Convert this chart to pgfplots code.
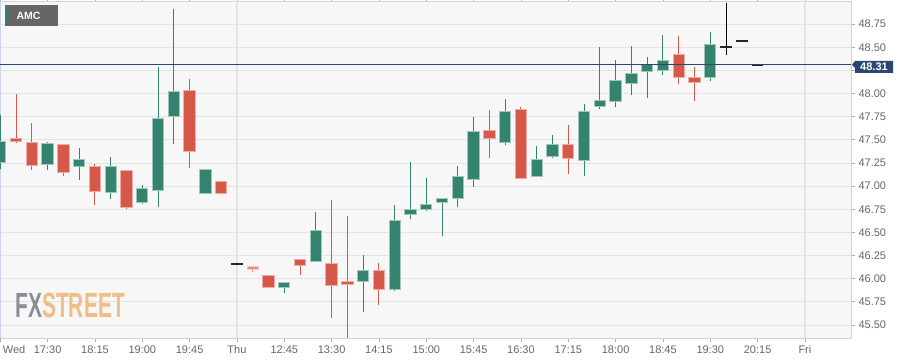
\documentclass[border=0pt]{standalone}
\usepackage{pgfplots}
\pgfplotsset{compat=1.18}
\usepackage{pgfplotstable}
\usepackage{graphicx}
\usepackage{fontspec}
\setmainfont{Liberation Sans}
\definecolor{cup}{RGB}{52,131,111}
\definecolor{cupl}{RGB}{160,200,186}
\definecolor{cdn}{RGB}{214,88,72}
\definecolor{cdnl}{RGB}{240,172,162}
\definecolor{cpale}{RGB}{234,140,128}
\definecolor{cpalel}{RGB}{246,200,194}
\definecolor{bg}{RGB}{247,247,247}
\definecolor{gridc}{RGB}{228,228,228}
\definecolor{bord}{RGB}{204,212,232}
\definecolor{navy}{RGB}{43,71,112}
\definecolor{tickc}{RGB}{102,102,102}
\definecolor{tickm}{RGB}{170,176,190}
\definecolor{fxgrey}{RGB}{138,141,150}
\definecolor{fxorange}{RGB}{240,190,132}

% i open high low close
\pgfplotstableread{
i o h l c
0 47.26 47.77 47.19 47.48
3 47.24 47.48 47.17 47.45
5 47.22 47.41 47.07 47.28
7 46.94 47.32 46.86 47.21
9 46.83 47.01 46.81 46.97
10 46.96 48.29 46.77 47.73
11 47.76 48.91 47.46 48.02
13 46.93 47.17 46.93 47.17
18 45.91 45.95 45.85 45.95
20 46.19 46.72 46.19 46.52
23 45.98 46.26 45.64 46.08
25 45.89 46.80 45.87 46.62
26 46.70 47.26 46.64 46.74
27 46.75 47.09 46.73 46.80
28 46.83 46.87 46.46 46.86
29 46.87 47.22 46.77 47.10
30 47.08 47.75 46.99 47.58
32 47.48 47.94 47.44 47.80
34 47.11 47.43 47.10 47.28
35 47.33 47.55 47.30 47.44
37 47.28 47.89 47.11 47.80
38 47.87 48.50 47.83 47.92
39 47.92 48.36 47.85 48.14
40 48.11 48.51 47.99 48.21
41 48.24 48.39 47.95 48.31
42 48.25 48.63 48.20 48.35
45 48.18 48.67 48.14 48.52
}\up

\pgfplotstableread{
i o h l c
1 47.51 48.00 47.47 47.49
2 47.47 47.68 47.17 47.23
4 47.44 47.44 47.11 47.15
6 47.21 47.24 46.80 46.95
8 47.16 47.17 46.75 46.78
12 48.03 48.16 47.20 47.38
14 47.04 47.04 46.93 46.93
17 46.03 46.03 45.91 45.91
19 46.20 46.20 46.04 46.15
21 46.16 46.85 45.58 45.93
22 45.97 46.68 45.35 45.94
24 46.08 46.17 45.72 45.89
31 47.60 47.82 47.30 47.52
33 47.82 47.85 47.09 47.09
36 47.44 47.66 47.13 47.30
43 48.42 48.62 48.10 48.18
44 48.17 48.29 47.92 48.13
}\down

\pgfplotstableread{
i o h l c
16 46.13 46.13 46.07 46.11
}\pale

\pgfplotstableread{
i o h l c
15 46.16 46.16 46.16 46.16
46 48.505 48.98 48.415 48.505
47 48.566 48.566 48.566 48.566
48 48.31 48.31 48.31 48.31
}\flat

\begin{document}
\begin{tikzpicture}
\path[use as bounding box] (0,0) rectangle (916pt,364pt);
\begin{axis}[
  at={(0pt,26pt)}, anchor=south west,
  scale only axis, width=851pt, height=337pt,
  xmin=-0.02, xmax=53.92, ymin=45.36, ymax=49.0,
  axis background/.style={fill=bg},
  axis line style={bord, line width=0.8pt},
  ytick={45.5,45.75,46,46.25,46.5,46.75,47,47.25,47.5,47.75,48,48.5,48.75},
  extra y ticks={48.25}, extra y tick labels={},
  extra y tick style={ymajorgrids=true},
  ytick pos=right, yticklabel pos=right,
  ymajorgrids, grid style={gridc, line width=0.9pt},
  xtick={3,6,9,12,15,18,21,24,27,30,33,36,39,42,45,48,51},
  xticklabels={17:30,18:15,19:00,19:45,Thu,12:45,13:30,14:15,15:00,15:45,16:30,17:15,18:00,18:45,19:30,20:15,Fri},
  extra x ticks={0}, extra x tick labels={Wed},
  extra x tick style={xticklabel style={anchor=north west, xshift=-1pt}},
  tick align=outside, major tick length=4pt,
  tick style={tickm, line width=0.8pt},
  xticklabel style={font=\fontsize{11}{13}\selectfont, text=tickc},
  yticklabel style={font=\fontsize{11}{13}\selectfont, text=tickc, anchor=west},
  /pgf/number format/fixed, /pgf/number format/fixed zerofill,
  /pgf/number format/precision=2, /pgf/number format/assume math mode=true,
  clip=true,
]
\draw[gridc, line width=1.2pt] (axis cs:15,45.36) -- (axis cs:15,49.0);
\draw[gridc, line width=1.2pt] (axis cs:51,45.36) -- (axis cs:51,49.0);

% wicks
\addplot[draw=none, mark=none, forget plot, error bars/.cd, y dir=plus, y explicit, error mark=none,
  error bar style={line width=1pt, draw=cup}]
  table[x=i, y=l, y error plus expr=\thisrow{h}-\thisrow{l}] {\up};
\addplot[draw=none, mark=none, forget plot, error bars/.cd, y dir=plus, y explicit, error mark=none,
  error bar style={line width=1pt, draw=cdn}]
  table[x=i, y=l, y error plus expr=\thisrow{h}-\thisrow{l}] {\down};
\addplot[draw=none, mark=none, forget plot, error bars/.cd, y dir=plus, y explicit, error mark=none,
  error bar style={line width=1pt, draw=cpale}]
  table[x=i, y=l, y error plus expr=\thisrow{h}-\thisrow{l}] {\pale};
\addplot[draw=none, mark=none, forget plot, error bars/.cd, y dir=plus, y explicit, error mark=none,
  error bar style={line width=1pt, draw=black}]
  table[x=i, y=l, y error plus expr=\thisrow{h}-\thisrow{l}] {\flat};

% bodies: outline then fill
\addplot[draw=none, mark=none, forget plot, error bars/.cd, y dir=plus, y explicit, error mark=none,
  error bar style={line width=12.3pt, draw=cupl, shorten <=-1pt, shorten >=-1pt}]
  table[x=i, y=o, y error plus expr=\thisrow{c}-\thisrow{o}] {\up};
\addplot[draw=none, mark=none, forget plot, error bars/.cd, y dir=plus, y explicit, error mark=none,
  error bar style={line width=10.3pt, draw=cup}]
  table[x=i, y=o, y error plus expr=\thisrow{c}-\thisrow{o}] {\up};
\addplot[draw=none, mark=none, forget plot, error bars/.cd, y dir=plus, y explicit, error mark=none,
  error bar style={line width=12.3pt, draw=cdnl, shorten <=-1pt, shorten >=-1pt}]
  table[x=i, y=c, y error plus expr=\thisrow{o}-\thisrow{c}] {\down};
\addplot[draw=none, mark=none, forget plot, error bars/.cd, y dir=plus, y explicit, error mark=none,
  error bar style={line width=10.3pt, draw=cdn}]
  table[x=i, y=c, y error plus expr=\thisrow{o}-\thisrow{c}] {\down};
\addplot[draw=none, mark=none, forget plot, error bars/.cd, y dir=plus, y explicit, error mark=none,
  error bar style={line width=12.3pt, draw=cpalel, shorten <=-1pt, shorten >=-1pt}]
  table[x=i, y=c, y error plus expr=\thisrow{o}-\thisrow{c}] {\pale};
\addplot[draw=none, mark=none, forget plot, error bars/.cd, y dir=plus, y explicit, error mark=none,
  error bar style={line width=10.3pt, draw=cpale}]
  table[x=i, y=c, y error plus expr=\thisrow{o}-\thisrow{c}] {\pale};
\addplot[draw=none, mark=none, forget plot, error bars/.cd, y dir=plus, y explicit, error mark=none,
  error bar style={line width=11.5pt, draw=black!85, shorten <=-0.7pt, shorten >=-0.7pt}]
  table[x=i, y=c, y error plus expr=\thisrow{o}-\thisrow{c}] {\flat};

% current price line
\addplot[navy, line width=1pt, mark=none, forget plot] coordinates {(-0.02,48.31) (53.92,48.31)};
\coordinate (p) at (axis cs:53.92,48.31);
\end{axis}
\fill[navy] ([xshift=1pt]p) -- ([xshift=4pt,yshift=4pt]p) -- ([xshift=42pt,yshift=4pt]p)
  -- ([xshift=42pt,yshift=-8pt]p) -- ([xshift=4pt,yshift=-8pt]p) -- ([xshift=4pt,yshift=-3pt]p) -- cycle;
\node[text=white, font=\bfseries\fontsize{11}{13}\selectfont, inner sep=0pt] at ([xshift=23pt,yshift=-2pt]p) {48.31};
% AMC label
\fill[black!60] (5pt,338pt) rectangle (58pt,359pt);
\fill[cup] (5pt,338pt) rectangle (7pt,359pt);
\node[text=white, font=\bfseries\fontsize{10.5}{12}\selectfont, inner sep=0pt] at (28.5pt,348.5pt) {AMC};
% watermark
\node[anchor=base west, inner sep=0pt, font=\bfseries\fontsize{35}{40}\selectfont] at (15pt,46pt)
  {\scalebox{0.6}[1]{\textcolor{fxgrey}{FX}\textcolor{fxorange}{STREET}}};
\end{tikzpicture}
\end{document}
